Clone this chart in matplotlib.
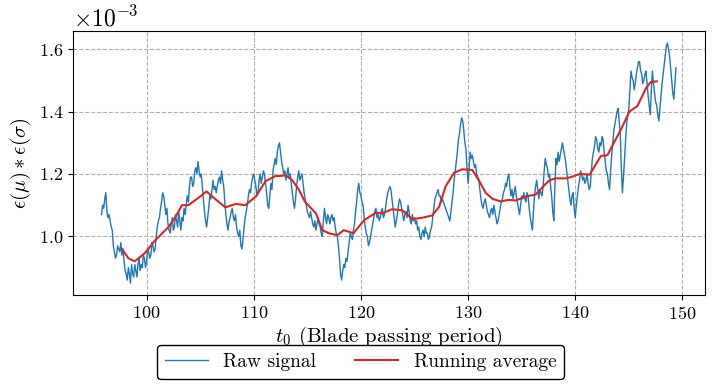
import numpy as np
import matplotlib
matplotlib.use("Agg")
import matplotlib.pyplot as plt

plt.rcParams['font.family'] = 'cmr10'
plt.rcParams['mathtext.fontset'] = 'cm'
plt.rcParams['axes.formatter.use_mathtext'] = True
plt.rcParams['axes.unicode_minus'] = False

# Raw signal: samples every 0.1 blade passing periods starting at t0 = 95.8
raw_t0 = 95.8
raw_dt = 0.1
raw_values = [
    1.07, 1.10, 1.09, 1.12, 1.14, 1.08, 1.06, 1.07, 1.05, 1.03, 1.02, 0.97, 0.95, 0.93, 0.94, 0.97, 0.96, 0.95, 0.98, 0.94,
    0.96, 0.92, 0.89, 0.88, 0.86, 0.90, 0.88, 0.85, 0.91, 0.88, 0.87, 0.91, 0.89, 0.87, 0.91, 0.93, 0.89, 0.91, 0.90, 0.94,
    0.93, 0.90, 0.92, 0.96, 0.95, 0.93, 0.94, 0.98, 0.97, 0.95, 0.96, 1.00, 1.03, 1.05, 1.06, 1.09, 1.11, 1.14, 1.13, 1.10,
    1.07, 1.09, 1.04, 1.02, 1.01, 1.04, 1.06, 1.02, 1.03, 1.07, 1.05, 1.03, 1.08, 1.05, 1.02, 1.06, 1.05, 1.09, 1.07, 1.10,
    1.13, 1.11, 1.16, 1.19, 1.19, 1.16, 1.17, 1.21, 1.22, 1.20, 1.24, 1.21, 1.19, 1.20, 1.16, 1.12, 1.08, 1.05, 1.03, 1.06,
    1.09, 1.13, 1.12, 1.15, 1.18, 1.15, 1.16, 1.14, 1.16, 1.18, 1.19, 1.17, 1.21, 1.18, 1.16, 1.11, 1.07, 1.04, 1.02, 1.05,
    1.06, 1.08, 1.09, 1.06, 1.05, 1.07, 1.03, 1.01, 1.00, 1.02, 0.97, 0.96, 0.99, 1.03, 1.06, 1.08, 1.10, 1.13, 1.15, 1.14,
    1.17, 1.19, 1.20, 1.18, 1.16, 1.13, 1.14, 1.18, 1.20, 1.17, 1.19, 1.21, 1.20, 1.17, 1.14, 1.10, 1.09, 1.13, 1.17, 1.15,
    1.21, 1.23, 1.25, 1.23, 1.27, 1.29, 1.30, 1.27, 1.24, 1.22, 1.20, 1.21, 1.18, 1.20, 1.22, 1.19, 1.20, 1.17, 1.14, 1.11,
    1.09, 1.12, 1.16, 1.19, 1.21, 1.18, 1.19, 1.20, 1.17, 1.14, 1.12, 1.10, 1.08, 1.07, 1.06, 1.08, 1.06, 1.04, 1.03, 1.05,
    1.02, 1.04, 1.06, 1.04, 1.03, 1.01, 1.00, 1.05, 1.09, 1.06, 1.04, 1.07, 1.06, 1.04, 1.06, 1.07, 1.05, 1.06, 1.03, 1.01,
    1.00, 0.97, 0.93, 0.88, 0.86, 0.89, 0.91, 0.90, 0.93, 0.92, 0.95, 0.98, 1.01, 1.00, 0.99, 1.02, 1.04, 1.08, 1.11, 1.15,
    1.17, 1.14, 1.13, 1.11, 1.10, 1.06, 1.03, 1.01, 1.00, 0.97, 0.98, 1.00, 1.02, 1.04, 1.06, 1.08, 1.09, 1.06, 1.07, 1.05,
    1.06, 1.08, 1.09, 1.06, 1.07, 1.09, 1.12, 1.14, 1.15, 1.16, 1.15, 1.12, 1.09, 1.06, 1.03, 1.05, 1.07, 1.10, 1.12, 1.11,
    1.09, 1.07, 1.05, 1.07, 1.08, 1.06, 1.10, 1.08, 1.05, 1.04, 1.07, 1.05, 1.06, 1.04, 1.05, 1.02, 1.03, 1.00, 0.99, 1.01,
    1.02, 1.00, 1.03, 1.01, 1.01, 0.99, 1.00, 1.02, 1.03, 1.06, 1.09, 1.12, 1.13, 1.14, 1.15, 1.13, 1.13, 1.11, 1.12, 1.11,
    1.10, 1.09, 1.08, 1.07, 1.06, 1.05, 1.08, 1.11, 1.14, 1.18, 1.21, 1.24, 1.27, 1.31, 1.33, 1.36, 1.38, 1.37, 1.34, 1.30,
    1.28, 1.22, 1.17, 1.22, 1.27, 1.25, 1.26, 1.24, 1.22, 1.23, 1.20, 1.19, 1.18, 1.15, 1.12, 1.10, 1.09, 1.11, 1.12, 1.10,
    1.08, 1.07, 1.06, 1.08, 1.09, 1.07, 1.10, 1.08, 1.06, 1.04, 1.05, 1.07, 1.09, 1.11, 1.12, 1.14, 1.15, 1.17, 1.16, 1.19,
    1.20, 1.16, 1.13, 1.15, 1.12, 1.14, 1.16, 1.13, 1.11, 1.09, 1.07, 1.10, 1.13, 1.12, 1.14, 1.12, 1.11, 1.14, 1.13, 1.09,
    1.06, 1.04, 1.02, 1.08, 1.13, 1.16, 1.18, 1.15, 1.12, 1.15, 1.14, 1.13, 1.16, 1.21, 1.25, 1.23, 1.22, 1.19, 1.20, 1.16,
    1.13, 1.08, 1.05, 1.16, 1.25, 1.23, 1.27, 1.24, 1.26, 1.28, 1.30, 1.28, 1.26, 1.24, 1.21, 1.18, 1.15, 1.12, 1.10, 1.13,
    1.14, 1.09, 1.06, 1.10, 1.13, 1.16, 1.18, 1.21, 1.20, 1.18, 1.19, 1.17, 1.18, 1.20, 1.17, 1.15, 1.16, 1.21, 1.25, 1.27,
    1.29, 1.32, 1.31, 1.28, 1.27, 1.30, 1.29, 1.32, 1.31, 1.27, 1.24, 1.21, 1.20, 1.17, 1.15, 1.21, 1.26, 1.30, 1.34, 1.36,
    1.38, 1.40, 1.41, 1.37, 1.33, 1.22, 1.14, 1.19, 1.25, 1.31, 1.36, 1.39, 1.41, 1.47, 1.53, 1.51, 1.50, 1.47, 1.49, 1.52,
    1.54, 1.56, 1.56, 1.53, 1.52, 1.49, 1.50, 1.52, 1.53, 1.49, 1.45, 1.42, 1.39, 1.47, 1.53, 1.49, 1.46, 1.43, 1.42, 1.39,
    1.37, 1.41, 1.45, 1.49, 1.52, 1.55, 1.58, 1.61, 1.62, 1.60, 1.58, 1.54, 1.50, 1.46, 1.44, 1.49, 1.54,
]

# Running average
avg_t = [97.7, 98.3, 98.9, 99.8, 100.8, 102.05, 102.7, 103.3, 103.9, 104.7,
         105.6, 106.4, 107.35, 108.3, 109.2, 110.2, 111.1, 112.0, 113.0, 113.6,
         114.2, 114.8, 115.8, 116.4, 117.0, 117.8, 118.4, 119.3, 120.3, 121.4,
         122.0, 122.9, 123.9, 124.8, 125.75, 126.65, 127.3, 127.9, 128.7, 129.45,
         130.4, 131.0, 131.65, 132.3, 133.05, 133.8, 134.45, 135.4, 136.3, 137.0,
         137.6, 138.2, 139.1, 139.6, 140.4, 141.35, 141.9, 142.4, 143.0, 143.6,
         144.3, 145.05, 145.8, 146.6, 147.05, 147.6]
avg_values = [0.96, 0.93, 0.92, 0.945, 0.987, 1.03, 1.063, 1.10, 1.10, 1.12,
              1.144, 1.12, 1.093, 1.104, 1.10, 1.128, 1.177, 1.193, 1.195, 1.18,
              1.15, 1.11, 1.074, 1.02, 1.01, 1.004, 1.02, 1.01, 1.052, 1.076,
              1.074, 1.087, 1.083, 1.055, 1.06, 1.067, 1.095, 1.16, 1.204, 1.215,
              1.213, 1.18, 1.139, 1.12, 1.112, 1.117, 1.115, 1.128, 1.134, 1.16,
              1.18, 1.186, 1.186, 1.19, 1.20, 1.198, 1.23, 1.258, 1.26, 1.30,
              1.345, 1.40, 1.418, 1.475, 1.495, 1.497]

raw_t = raw_t0 + raw_dt * np.arange(len(raw_values))
raw_y = np.array(raw_values) * 1e-3
avg_y = np.array(avg_values) * 1e-3

fig = plt.figure(figsize=(7.14, 3.92), dpi=100)
ax = fig.add_axes([0.102, 0.247, 0.885, 0.674])
ax.plot(raw_t, raw_y, color='#1f77b4', lw=1.0, label='Raw signal')
ax.plot(avg_t, avg_y, color='#d62728', lw=1.5, label='Running average')

ax.set_yticks([1.0e-3, 1.2e-3, 1.4e-3, 1.6e-3])
ax.set_xticks([100, 110, 120, 130, 140, 150])
ax.ticklabel_format(axis='y', style='sci', scilimits=(0, 0), useMathText=True)
ax.grid(True, ls='--', color='#b0b0b0', lw=0.8)
ax.tick_params(labelsize=13)
ax.yaxis.get_offset_text().set_fontsize(17)
ax.set_xlabel(r'$t_0$ (Blade passing period)', fontsize=15, labelpad=2)
ax.set_ylabel(r'$\epsilon(\mu) * \epsilon(\sigma)$', fontsize=15)

fig.legend(loc='center', bbox_to_anchor=(0.505, 0.077), ncol=2, fontsize=14,
           edgecolor='black', framealpha=1, handlelength=2.2, columnspacing=2.0)

fig.savefig('out.png', dpi=100)
